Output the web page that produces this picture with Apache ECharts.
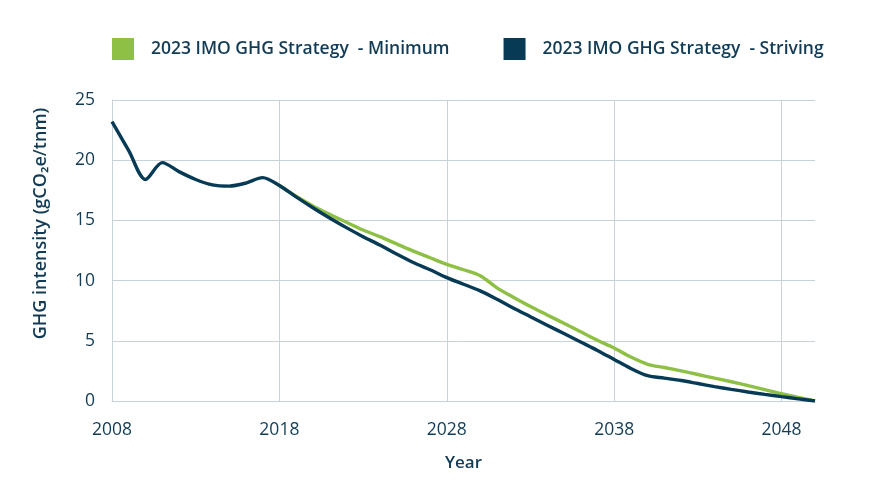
<!DOCTYPE html>
<html>
<head>
<meta charset="utf-8">
<script src="https://cdn.jsdelivr.net/npm/echarts@6/dist/echarts.min.js"></script>
<style>html,body{margin:0;padding:0;background:#fff}#c{width:885px;height:486px}</style>
</head>
<body>
<div id="c"></div>
<script>
const years = [];
for (let y = 2008; y <= 2050; y++) years.push(String(y));

const seriesNames = ['2023 IMO GHG Strategy  - Minimum', '2023 IMO GHG Strategy  - Striving'];

const minimum = [null,null,null,null,null,null,null,null,null,null,
  17.9,17.0,16.2,15.5,14.85,14.2,13.65,13.05,12.45,11.9,
  11.35,10.9,10.4,9.4,8.6,7.85,7.15,6.45,5.75,5.05,
  4.4,3.65,3.05,2.78,2.5,2.2,1.9,1.6,1.28,0.95,
  0.6,0.3,0.0];

const striving = [23.2,20.8,18.4,19.8,19.05,18.4,17.95,17.85,18.1,18.55,
  17.9,16.95,16.05,15.2,14.4,13.65,12.95,12.2,11.5,10.9,
  10.25,9.7,9.15,8.45,7.7,7.0,6.3,5.6,4.9,4.2,
  3.45,2.7,2.1,1.9,1.7,1.45,1.2,0.97,0.75,0.55,
  0.36,0.18,0.0];

const yTicks = [0, 25, 5];

const chart = echarts.init(document.getElementById('c'));
const txt = '#123b55';
const gridColor = '#c8d2d9';
const font = '"Open Sans", "Noto Sans", sans-serif';
chart.setOption({
  animation: false,
  textStyle: { fontFamily: font },
  legend: {
    left: 112, top: 38, padding: 0,
    icon: 'rect', itemWidth: 22, itemHeight: 22, itemGap: 54,
    textStyle: { fontFamily: font, fontSize: 17.5, color: txt, fontWeight: 600, padding: [0, 0, 0, 12] },
    data: seriesNames
  },
  grid: { left: 112, right: 70, top: 100, bottom: 85 },
  xAxis: {
    type: 'category', data: years, boundaryGap: false,
    name: 'Year', nameLocation: 'middle', nameGap: 54,
    nameTextStyle: { fontFamily: font, fontSize: 17, color: txt, fontWeight: 600 },
    axisLine: { show: true, lineStyle: { color: gridColor, width: 1 } },
    axisTick: { show: false },
    axisLabel: { interval: 9, fontFamily: font, fontSize: 17.5, color: txt, margin: 20 },
    splitLine: { show: true, interval: 9, lineStyle: { color: gridColor, width: 1 } }
  },
  yAxis: {
    type: 'value', min: yTicks[0], max: yTicks[1], interval: yTicks[2],
    name: 'GHG intensity (gCO₂e/tnm)', nameLocation: 'middle', nameGap: 62,
    nameTextStyle: { fontFamily: font, fontSize: 18, color: txt, fontWeight: 600, padding: [0, 0, 0, 54] },
    axisLine: { show: true, lineStyle: { color: gridColor, width: 1 } },
    axisTick: { show: false },
    axisLabel: { fontFamily: font, fontSize: 17.5, color: txt, margin: 17 },
    splitLine: { show: true, lineStyle: { color: gridColor, width: 1 } }
  },
  series: [
    { name: seriesNames[0], type: 'line', data: minimum, smooth: 0.3, showSymbol: false,
      itemStyle: { color: '#8dc044' }, lineStyle: { color: '#8dc044', width: 3.4 }, z: 2 },
    { name: seriesNames[1], type: 'line', data: striving, smooth: 0.3, showSymbol: false,
      itemStyle: { color: '#073a55' }, lineStyle: { color: '#073a55', width: 3.4 }, z: 3 }
  ]
});
</script>
</body>
</html>
